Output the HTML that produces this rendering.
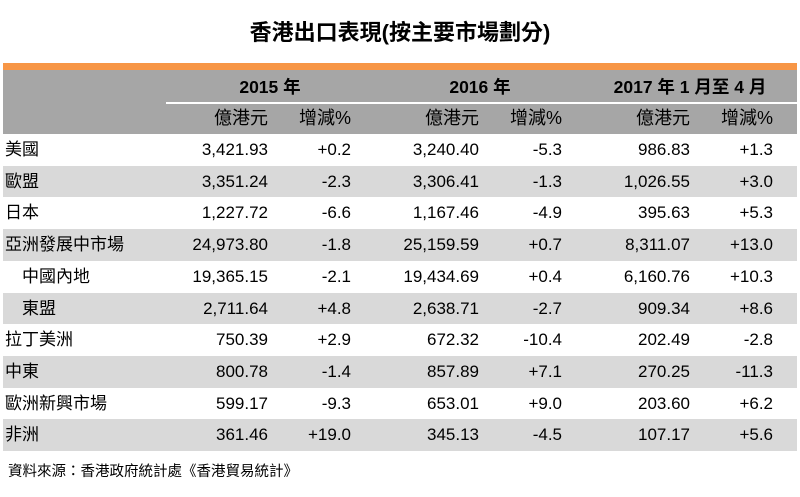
<!DOCTYPE html>
<html><head><meta charset="utf-8"><style>
body{margin:0;width:800px;height:497px;background:#fff;position:relative;overflow:hidden;font-family:"Liberation Sans","Noto Sans CJK TC",sans-serif;color:#000}
.a{position:absolute;white-space:nowrap}
.r{text-align:right}
.c{text-align:center}
.t{font-size:17px;line-height:32px}
</style></head><body>
<div class="a c" style="left:0;width:800px;top:15px;font-size:22px;font-weight:bold">香港出口表現(按主要市場劃分)</div>
<div class="a" style="left:3px;width:794px;top:63px;height:7px;background:#f79646"></div>
<div class="a" style="left:3px;width:794px;top:70px;height:64px;background:#a6a6a6"></div>
<div class="a" style="left:166px;width:631px;top:102px;height:2px;background:#fff"></div>
<div id="tbl"></div>
<div class="a" style="left:8px;top:460px;font-size:14.5px">資料來源：香港政府統計處《香港貿易統計》</div>
<script>
const years=["2015 年","2016 年","2017 年 1 月至 4 月"];
const subs=["億港元","增減%"];
const rows=["美國","歐盟","日本","亞洲發展中市場","中國內地","東盟","拉丁美洲","中東","歐洲新興市場","非洲"];
const indent=[0,0,0,0,1,1,0,0,0,0];
const v2015=["3,421.93","3,351.24","1,227.72","24,973.80","19,365.15","2,711.64","750.39","800.78","599.17","361.46"];
const c2015=["+0.2","-2.3","-6.6","-1.8","-2.1","+4.8","+2.9","-1.4","-9.3","+19.0"];
const v2016=["3,240.40","3,306.41","1,167.46","25,159.59","19,434.69","2,638.71","672.32","857.89","653.01","345.13"];
const c2016=["-5.3","-1.3","-4.9","+0.7","+0.4","-2.7","-10.4","+7.1","+9.0","-4.5"];
const v2017=["986.83","1,026.55","395.63","8,311.07","6,160.76","909.34","202.49","270.25","203.60","107.17"];
const c2017=["+1.3","+3.0","+5.3","+13.0","+10.3","+8.6","-2.8","-11.3","+6.2","+5.6"];
const cols=[v2015,c2015,v2016,c2016,v2017,c2017];
const colRight=[268,351,479,562,690,773];
const yearCenter=[270,480,690];
const tbl=document.getElementById('tbl');
function mk(cls,style,txt,name){const d=document.createElement('div');d.className='a '+cls;d.style.cssText=style;d.textContent=txt;


tbl.appendChild(d);return d;}
years.forEach((y,i)=>{mk('c t','left:'+(yearCenter[i]-120)+'px;width:240px;top:71px;font-weight:bold;font-size:17.5px',y,'year-header');});
for(let k=0;k<6;k++){mk('r t','left:'+(colRight[k]-120)+'px;width:120px;top:102px;font-size:18px',subs[k%2],'column-header');}
const y0=134,rh=31.7;
rows.forEach((r,i)=>{const top=y0+i*rh;
if(i%2==1)mk('','left:3px;width:794px;top:'+top+'px;height:'+rh+'px;background:#d9d9d9','','row-band');
mk('t','left:'+(indent[i]?22:5)+'px;top:'+top+'px',r,'row-label');
for(let k=0;k<6;k++)mk('r t','left:'+(colRight[k]-120)+'px;width:120px;top:'+top+'px',cols[k][i],'cell');
});
</script>
</body></html>
